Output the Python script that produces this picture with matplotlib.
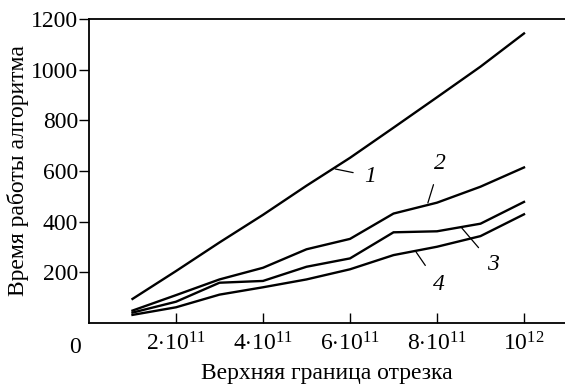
import numpy as np
import matplotlib
matplotlib.use("Agg")
import matplotlib.pyplot as plt

plt.rcParams['font.family'] = ['Liberation Serif', 'DejaVu Serif']
plt.rcParams['mathtext.fontset'] = 'custom'
plt.rcParams['mathtext.rm'] = 'Liberation Serif'
plt.rcParams['mathtext.it'] = 'Liberation Serif:italic'

# данные
x_vals = [1e11, 2e11, 3e11, 4e11, 5e11, 6e11, 7e11, 8e11, 9e11, 1e12]
curve1 = [95, 205, 318, 427, 542, 652, 771, 891, 1012, 1143]
curve2 = [49, 110, 172, 218, 291, 332, 432, 475, 538, 614]
curve3 = [41, 84, 159, 166, 222, 255, 358, 362, 392, 478]
curve4 = [32, 62, 112, 141, 172, 212, 268, 301, 343, 429]

xticks = [2e11, 4e11, 6e11, 8e11, 1e12]
xtick_labels = [r'2$\cdot$10$^{11}$', r'4$\cdot$10$^{11}$', r'6$\cdot$10$^{11}$',
                r'8$\cdot$10$^{11}$', r'10$^{12}$']
yticks = [200, 400, 600, 800, 1000, 1200]

fs = 17

fig = plt.figure(figsize=(5.65, 3.86), dpi=100)
ax = fig.add_axes([89/565, 1-323/386, 1-89/565, (323-19)/386])

for c in [curve1, curve2, curve3, curve4]:
    ax.plot(x_vals, c, color='black', lw=1.7, solid_joinstyle='miter')

ax.set_xlim(0, 476/435*1e12)
ax.set_ylim(0, 1200)
ax.set_xticks(xticks)
ax.set_xticklabels(xtick_labels, fontsize=fs)
ax.set_yticks(yticks)
ax.set_yticklabels([str(v) for v in yticks], fontsize=fs)
ax.tick_params(axis='x', direction='in', length=7, width=1, pad=7)
ax.tick_params(axis='y', direction='out', length=7, width=1, pad=1)
ax.spines['right'].set_visible(False)
for s in ['left', 'top', 'bottom']:
    ax.spines[s].set_linewidth(1.3)

ax.annotate('0', xy=(0, 0), xycoords='data', xytext=(-10, -10),
            textcoords='offset points', fontsize=fs, ha='center', va='top')

ax.set_xlabel('Верхняя граница отрезка', fontsize=fs, labelpad=5)
ax.set_ylabel('Время работы алгоритма', fontsize=fs, labelpad=1)

# подписи кривых: (текст, точка на кривой, позиция подписи)
labels = [('1', 0.566e12, 608, 0.646e12, 580),
          ('2', 0.779e12, 474, 0.807e12, 630),
          ('3', 0.857e12, 375, 0.928e12, 232),
          ('4', 0.752e12, 280, 0.804e12, 150)]
for txt, x0, y0, x1, y1 in labels:
    ax.annotate(txt, xy=(x0, y0), xytext=(x1, y1), fontsize=fs, style='italic',
                ha='center', va='center',
                arrowprops=dict(arrowstyle='-', lw=0.9, color='black',
                                shrinkA=6, shrinkB=0))

fig.savefig('out.png', dpi=100)
